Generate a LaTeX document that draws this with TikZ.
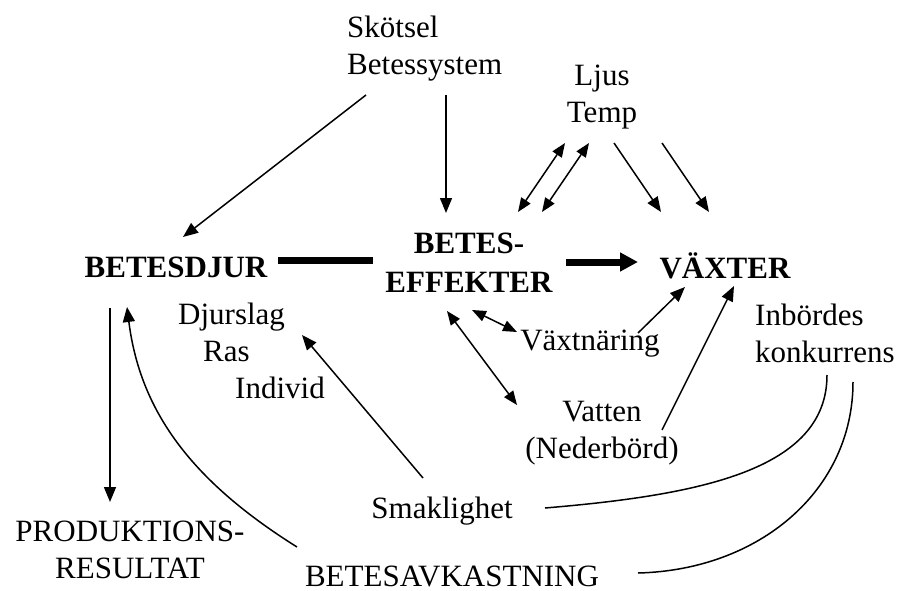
\documentclass[tikz,border=0pt]{standalone}
\usepackage{fontspec}
\setmainfont{Liberation Serif}
\usetikzlibrary{arrows.meta}
\begin{document}
\begin{tikzpicture}[x=1pt,y=-1pt,
  lbl/.style={inner sep=0pt,font=\fontsize{31}{37}\selectfont},
  blbl/.style={inner sep=0pt,font=\fontsize{31}{39}\selectfont\bfseries},
  conn/.style={line width=1.5pt,-{Triangle[length=15pt,width=12pt]}},
  dconn/.style={line width=1.5pt,{Triangle[length=14pt,width=11pt]}-{Triangle[length=14pt,width=11pt]}},
  plain/.style={line width=1.5pt},
  thick/.style={line width=7pt},
  thickarr/.style={line width=7pt,-{Triangle[length=18pt,width=18pt]}}]
\useasboundingbox (0,0) rectangle (899,591);
% nodes (base = baseline of the last line)
\node[lbl,anchor=base west,align=left] (skot) at (347,75) {Skötsel\\Betessystem};
\node[lbl,anchor=base,align=center] (ljus) at (602,123) {Ljus\\Temp};
\node[blbl,anchor=base] (djur) at (176,277) {BETESDJUR};
\node[blbl,anchor=base,align=center] (betes) at (469,292) {BETES-\\EFFEKTER};
\node[blbl,anchor=base] (vax) at (725,278) {VÄXTER};
\node[lbl,anchor=base west,align=left] (djurs) at (178,398) {Djurslag\\\hspace*{25pt}Ras\\\hspace*{57pt}Individ};
\node[lbl,anchor=base] (vaxn) at (590,350) {Växtnäring};
\node[lbl,anchor=base west,align=left] (inb) at (755,362) {Inbördes\\konkurrens};
\node[lbl,anchor=base,align=center] (vatten) at (602,458) {Vatten\\(Nederbörd)};
\node[lbl,anchor=base] (smak) at (442,518) {Smaklighet};
\node[lbl,anchor=base,align=center] (prod) at (130,578) {PRODUKTIONS-\\RESULTAT};
\node[lbl,anchor=base] (avk) at (452,586) {BETESAVKASTNING};
% connectors
\draw[conn] ([shift={(19,20)}]skot.base west) -- ([shift={(7,-40)}]djur.base);
\draw[conn] ([shift={(99,20)}]skot.base west) -- ([shift={(-23,-79)}]betes.base);
\draw[dconn] ([shift={(-37,20)}]ljus.base) -- ([shift={(49,-80)}]betes.base);
\draw[dconn] ([shift={(-13,20)}]ljus.base) -- ([shift={(73,-80)}]betes.base);
\draw[conn] ([shift={(12,20)}]ljus.base) -- ([shift={(-64,-66)}]vax.base);
\draw[conn] ([shift={(60,20)}]ljus.base) -- ([shift={(-16,-66)}]vax.base);
\draw[thick] ([shift={(102,-17)}]djur.base) -- ([shift={(-96,-32)}]betes.base);
\draw[thickarr] ([shift={(97,-30)}]betes.base) -- ([shift={(-87,-16)}]vax.base);
\draw[conn] ([shift={(48,-17)}]vaxn.base) -- ([shift={(-40,9)}]vax.base);
\draw[conn] ([shift={(60,-28)}]vatten.base) -- ([shift={(9,8)}]vax.base);
\draw[dconn] ([shift={(3,18)}]betes.base) -- ([shift={(-73,-18)}]vaxn.base);
\draw[dconn] ([shift={(-22,19)}]betes.base) -- ([shift={(-85,-53)}]vatten.base);
\draw[conn] ([shift={(-66,31)}]djur.base) -- ([shift={(-20,-76)}]prod.base);
\draw[conn] ([shift={(-155,-39)}]avk.base) .. controls +(-107,-67) and +(13,103) .. ([shift={(-49,30)}]djur.base);
\draw[conn] ([shift={(-19,-40)}]smak.base) -- ([shift={(124,-63)}]djurs.base west);
\draw[plain] ([shift={(72,13)}]inb.base west) .. controls +(0,95) and +(155,-13) .. ([shift={(103,-10)}]smak.base);
\draw[plain] ([shift={(98,20)}]inb.base west) .. controls +(0,108) and +(122,-3) .. ([shift={(186,-13)}]avk.base);
\end{tikzpicture}
\end{document}
